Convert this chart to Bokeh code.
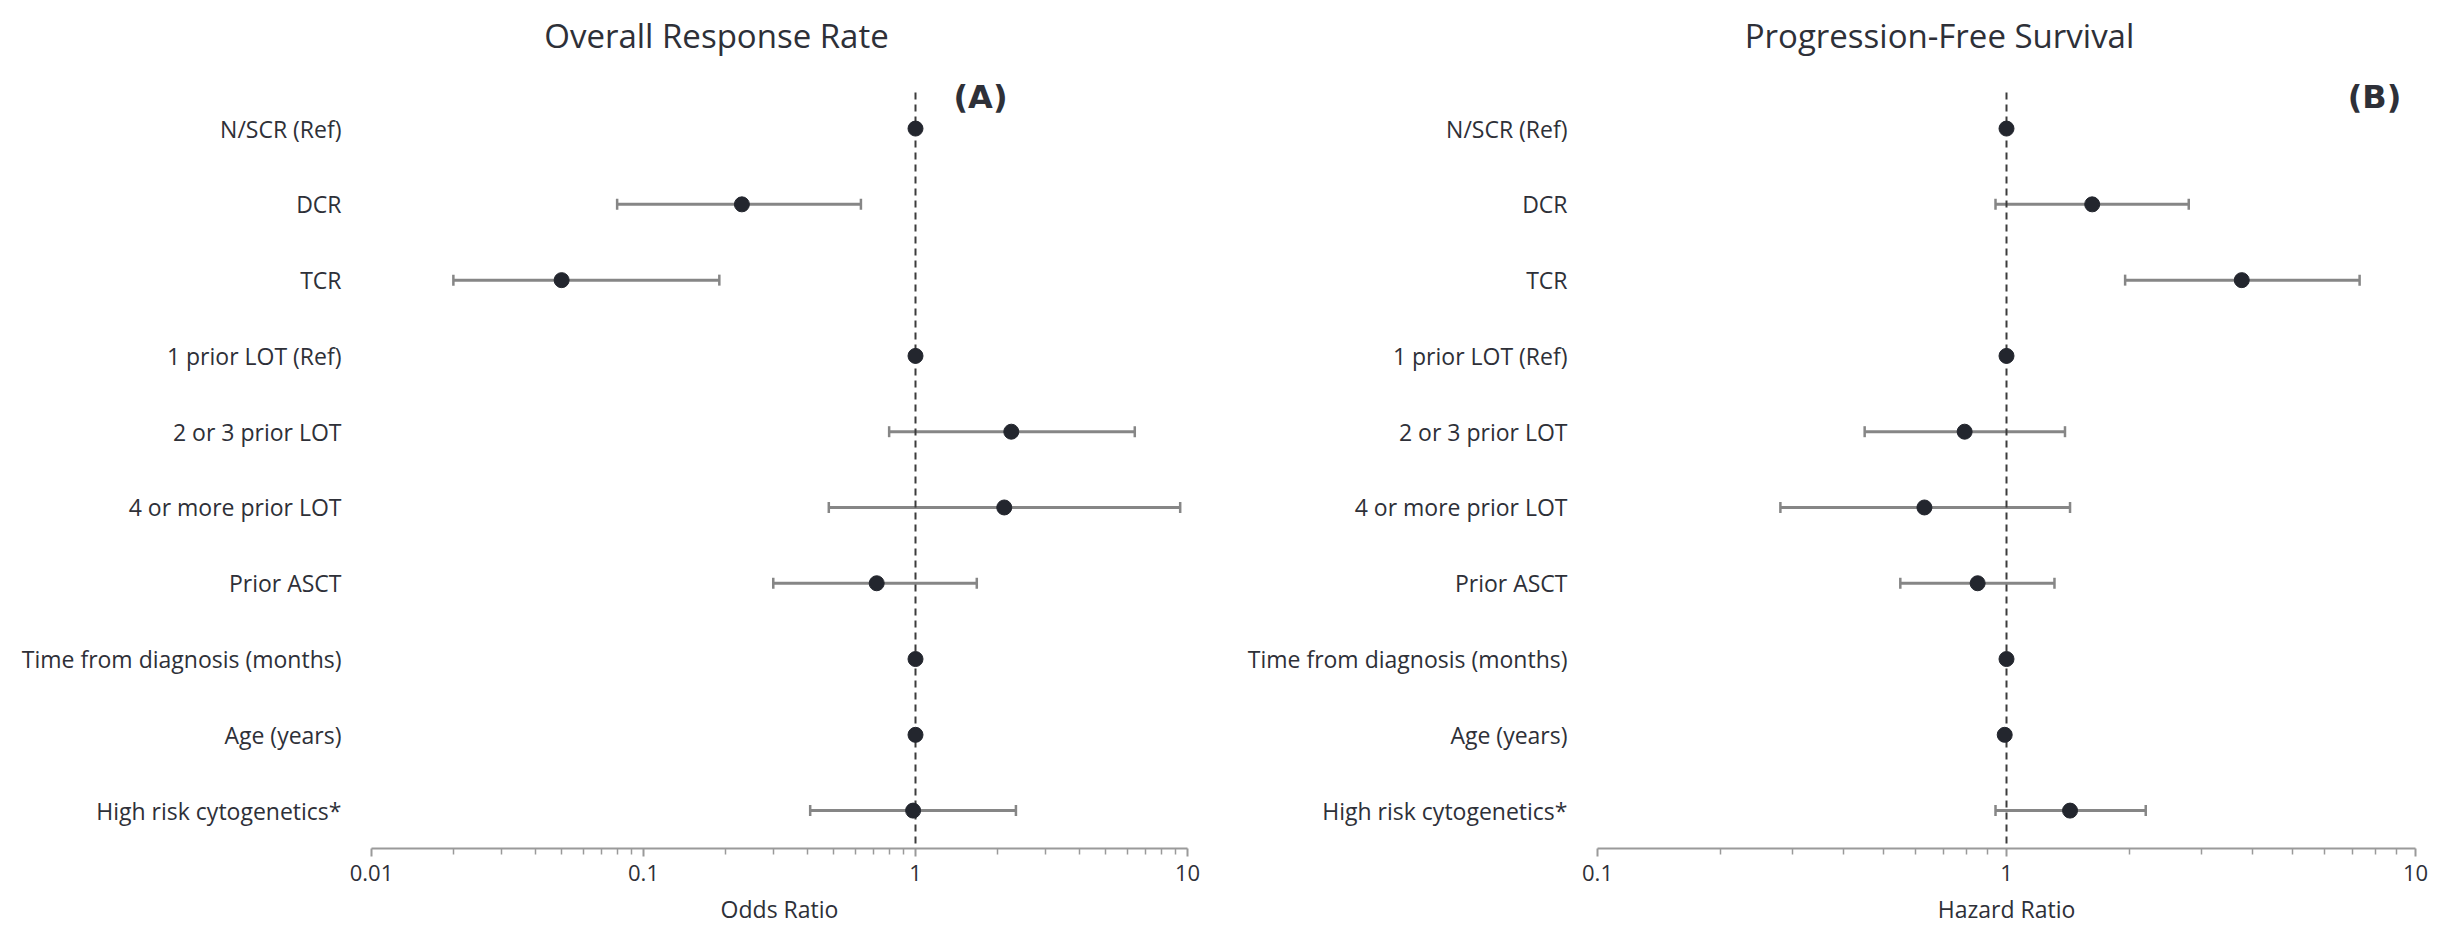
from bokeh.plotting import figure
from bokeh.layouts import row
from bokeh.models import (ColumnDataSource, Whisker, TeeHead, Label, FixedTicker, Range1d)
from bokeh.embed import file_html
from bokeh.resources import INLINE

# ---------------- data ----------------
categories = ["N/SCR (Ref)", "DCR", "TCR", "1 prior LOT (Ref)", "2 or 3 prior LOT",
              "4 or more prior LOT", "Prior ASCT", "Time from diagnosis (months)",
              "Age (years)", "High risk cytogenetics*"]

orr_est = [1.0, 0.23, 0.05, 1.0, 2.25, 2.12, 0.72, 1.0, 1.0, 0.98]
orr_lo = [None, 0.08, 0.02, None, 0.80, 0.48, 0.30, None, None, 0.41]
orr_hi = [None, 0.63, 0.19, None, 6.4, 9.4, 1.68, None, None, 2.34]

pfs_est = [1.0, 1.62, 3.76, 1.0, 0.79, 0.63, 0.85, 1.0, 0.99, 1.43]
pfs_lo = [None, 0.94, 1.95, None, 0.45, 0.28, 0.55, None, None, 0.94]
pfs_hi = [None, 2.79, 7.3, None, 1.39, 1.43, 1.31, None, None, 2.19]

orr_ticks = [0.01, 0.1, 1, 10]
orr_tick_labels = ["0.01", "0.1", "1", "10"]
pfs_ticks = [0.1, 1, 10]
pfs_tick_labels = ["0.1", "1", "10"]
reference_value = 1

# ---------------- style ----------------
FONT = "Open Sans"
TXT = "#2e3038"
PT = "#23262e"
BAR = "#868686"
AX = "#9a9a9a"


def panel(title, est, lo, hi, ticks, tick_labels, xlabel, border_left, border_right):
    n = len(categories)
    ys = list(range(n))
    p = figure(width=1223, height=927, x_axis_type="log",
               x_range=Range1d(ticks[0], ticks[-1]),
               y_range=Range1d(n - 0.5, -1.69),
               output_backend="svg", toolbar_location=None,
               min_border_left=border_left, min_border_right=border_right,
               min_border_top=0, min_border_bottom=79)
    p.outline_line_color = None
    p.grid.visible = False
    p.background_fill_color = "white"
    p.border_fill_color = "white"

    # y axis: category labels
    ya = p.yaxis[0]
    ya.ticker = FixedTicker(ticks=ys)
    ya.major_label_overrides = {i: c for i, c in zip(ys, categories)}
    ya.axis_line_color = None
    ya.major_tick_line_color = None
    ya.minor_tick_line_color = None
    ya.major_label_standoff = 24
    ya.major_label_text_font = FONT
    ya.major_label_text_font_size = "23px"
    ya.major_label_text_color = TXT

    # x axis: log scale
    xa = p.xaxis[0]
    minor = [m * t for t in ticks[:-1] for m in range(2, 10)]
    xa.ticker = FixedTicker(ticks=ticks, minor_ticks=minor)
    xa.major_label_overrides = {t: l for t, l in zip(ticks, tick_labels)}
    xa.axis_line_color = AX
    xa.axis_line_width = 2
    xa.major_tick_line_color = AX
    xa.major_tick_line_width = 2
    xa.major_tick_in = 0
    xa.major_tick_out = 8
    xa.minor_tick_line_color = AX
    xa.minor_tick_line_width = 1.5
    xa.minor_tick_in = 0
    xa.minor_tick_out = 6
    xa.major_label_standoff = 8
    xa.major_label_text_font = FONT
    xa.major_label_text_font_size = "22px"
    xa.major_label_text_color = TXT
    xa.axis_label = xlabel
    xa.axis_label_standoff = 9
    xa.axis_label_text_font = FONT
    xa.axis_label_text_font_size = "23px"
    xa.axis_label_text_font_style = "normal"
    xa.axis_label_text_color = TXT

    # reference line (dashed, spanning the rows)
    p.segment(x0=[reference_value], y0=[ys[0] - 0.475], x1=[reference_value], y1=[ys[-1] + 0.5],
              line_color="#3c3c3c", line_width=2, line_dash="7 5")

    # confidence intervals
    idx = [i for i in ys if lo[i] is not None]
    src_ci = ColumnDataSource(dict(y=[ys[i] for i in idx], lo=[lo[i] for i in idx],
                                   hi=[hi[i] for i in idx]))
    w = Whisker(source=src_ci, base="y", lower="lo", upper="hi", dimension="width",
                line_color=BAR, line_width=3,
                lower_head=TeeHead(size=11, line_color=BAR, line_width=2.5),
                upper_head=TeeHead(size=11, line_color=BAR, line_width=2.5))
    p.add_layout(w)

    # point estimates
    src = ColumnDataSource(dict(x=est, y=ys))
    p.scatter("x", "y", source=src, size=15, fill_color=PT, line_color=PT)

    # title
    p.add_layout(Label(x=716, y=35, x_units="canvas", y_units="canvas", text=title,
                       text_align="center", text_baseline="alphabetic",
                       text_font=FONT, text_font_size="33px", text_color=TXT))
    return p


p1 = panel("Overall Response Rate", orr_est, orr_lo, orr_hi,
           orr_ticks, orr_tick_labels, "Odds Ratio", 371, 36)
p1.add_layout(Label(x=980, y=96, x_units="canvas", y_units="canvas", text="(A)",
                    text_align="center", text_baseline="alphabetic",
                    text_font="DejaVu Sans", text_font_style="bold",
                    text_font_size="32px", text_color=TXT))

p2 = panel("Progression-Free Survival", pfs_est, pfs_lo, pfs_hi,
           pfs_ticks, pfs_tick_labels, "Hazard Ratio", 374, 31)
p2.add_layout(Label(x=1151, y=96, x_units="canvas", y_units="canvas", text="(B)",
                    text_align="center", text_baseline="alphabetic",
                    text_font="DejaVu Sans", text_font_style="bold",
                    text_font_size="32px", text_color=TXT))

layout = row(p1, p2)
open("out.html", "w").write(file_html(layout, INLINE))
